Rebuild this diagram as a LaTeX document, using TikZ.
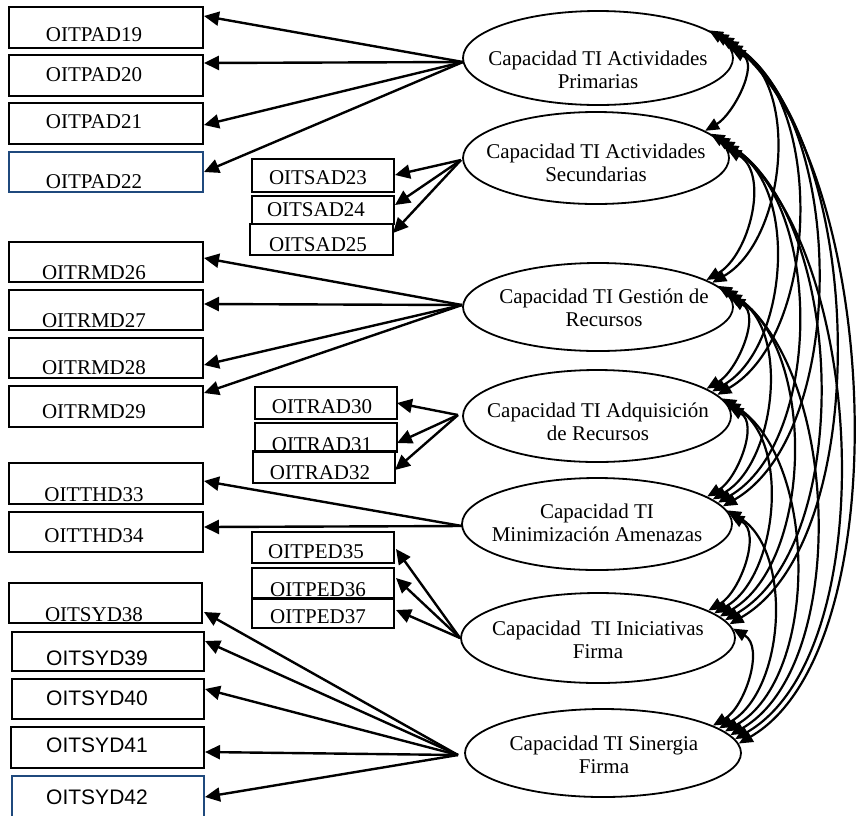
\documentclass[tikz,border=0pt]{standalone}
\usepackage{fontspec}
\setmainfont{Liberation Serif}
\newfontfamily\arialfont{Liberation Sans}
\usetikzlibrary{arrows.meta,shapes.geometric}
\definecolor{boxblue}{RGB}{31,73,125}
\begin{document}
\begin{tikzpicture}[x=1pt,y=-1pt,
  box/.style={draw=black, line width=2pt, rectangle, inner sep=0pt},
  bluebox/.style={box, draw=boxblue, line width=1.6pt},
  lbl/.style={font=\fontsize{21}{24}\selectfont, inner sep=0pt},
  slbl/.style={font=\arialfont\fontsize{21}{24}\selectfont, inner sep=0pt},
  factor/.style={draw, ellipse, line width=1.8pt, inner sep=0pt},
  ftext/.style={font=\fontsize{21}{23.5}\selectfont, align=center, inner sep=0pt},
  load/.style={line width=2.4pt, -{Triangle[length=15pt,width=14pt]}},
  cov/.style={line width=2.2pt, {Triangle[length=14pt,width=12pt]}-{Triangle[length=14pt,width=12pt]}},
]
\useasboundingbox (0,0) rectangle (861,815);
\fill[white] (0,0) rectangle (861,815);

% ---------- latent factors ----------
\node[factor, minimum width=270pt, minimum height=94pt] (f1) at (598,58) {};
\node[factor, minimum width=266pt, minimum height=92pt] (f2) at (596,158) {};
\node[factor, minimum width=270pt, minimum height=88pt] (f3) at (598,307) {};
\node[factor, minimum width=268pt, minimum height=92pt] (f4) at (597,416) {};
\node[factor, minimum width=270pt, minimum height=92pt] (f5) at (597,524) {};
\node[factor, minimum width=274pt, minimum height=90pt] (f6) at (598,638) {};
\node[factor, minimum width=276pt, minimum height=88pt] (f7) at (603,753) {};

\node[ftext] (tf1) at (598,70) {Capacidad TI Actividades\\Primarias};
\node[ftext] (tf2) at (596,163) {Capacidad TI Actividades\\Secundarias};
\node[ftext] (tf3) at (604,308) {Capacidad TI Gesti\'on de\\Recursos};
\node[ftext] (tf4) at (598,422) {Capacidad TI Adquisici\'on\\de Recursos};
\node[ftext] (tf5) at (597,523) {Capacidad TI\\Minimizaci\'on Amenazas};
\node[ftext] (tf6) at (598,640) {Capacidad~~TI Iniciativas\\Firma};
\node[ftext] (tf7) at (604,755) {Capacidad TI Sinergia\\Firma};

% ---------- observed indicators ----------
\node[box, minimum width=194pt, minimum height=41pt] (p19) at (106,27.5) {};
\node[box, minimum width=194pt, minimum height=41pt] (p20) at (106,75.5) {};
\node[box, minimum width=194pt, minimum height=41pt] (p21) at (106,123.5) {};
\node[bluebox, minimum width=194pt, minimum height=40pt] (p22) at (106,172) {};
\node[lbl] (tp19) at (94,35) {OITPAD19};
\node[lbl] (tp20) at (94,75) {OITPAD20};
\node[lbl] (tp21) at (94,122) {OITPAD21};
\node[lbl] (tp22) at (94,182) {OITPAD22};

\node[box, minimum width=142pt, minimum height=33pt] (s23) at (323,175.5) {};
\node[box, minimum width=142pt, minimum height=28pt] (s24) at (323,210) {};
\node[box, minimum width=143pt, minimum height=31pt] (s25) at (321.5,239.5) {};
\node[lbl] (ts23) at (318,178) {OITSAD23};
\node[lbl] (ts24) at (316,210) {OITSAD24};
\node[lbl] (ts25) at (318,245) {OITSAD25};

\node[box, minimum width=194pt, minimum height=40pt] (r26) at (106,262) {};
\node[box, minimum width=194pt, minimum height=40pt] (r27) at (106,310) {};
\node[box, minimum width=194pt, minimum height=40pt] (r28) at (106,358) {};
\node[box, minimum width=194pt, minimum height=41pt] (r29) at (106,406.5) {};
\node[lbl] (tr26) at (94,273) {OITRMD26};
\node[lbl] (tr27) at (94,321) {OITRMD27};
\node[lbl] (tr28) at (94,368) {OITRMD28};
\node[lbl] (tr29) at (94,412) {OITRMD29};

\node[box, minimum width=142pt, minimum height=32pt] (a30) at (326,403) {};
\node[box, minimum width=142pt, minimum height=29pt] (a31) at (326,437.5) {};
\node[lbl] (ta30) at (322,407) {OITRAD30};
\node[lbl] (ta31) at (322,445) {OITRAD31};
\node[box, minimum width=142pt, minimum height=32pt] (a32) at (324,467) {};
\node[lbl] (ta32) at (320,473) {OITRAD32};

\node[box, minimum width=194pt, minimum height=41pt] (t33) at (106,483.5) {};
\node[box, minimum width=194pt, minimum height=40pt] (t34) at (106,532) {};
\node[lbl] (tt33) at (94,495) {OITTHD33};
\node[lbl] (tt34) at (94,536) {OITTHD34};

\node[box, minimum width=142pt, minimum height=31pt] (d35) at (323,547.5) {};
\node[box, minimum width=142pt, minimum height=31pt] (d36) at (323,583.5) {};
\node[lbl] (td35) at (316,552) {OITPED35};
\node[lbl] (td36) at (318,590) {OITPED36};
\node[box, minimum width=142pt, minimum height=30pt] (d37) at (323,613) {};
\node[lbl] (td37) at (318,617) {OITPED37};

\node[box, minimum width=193pt, minimum height=40pt] (y38) at (105.5,603) {};
\node[box, minimum width=192pt, minimum height=39pt] (y39) at (108,651.5) {};
\node[box, minimum width=192pt, minimum height=40pt] (y40) at (108,699) {};
\node[box, minimum width=193pt, minimum height=41pt] (y41) at (107.5,747.5) {};
\node[bluebox, minimum width=192pt, minimum height=41pt] (y42) at (108,796.5) {};
\node[lbl]  (ty38) at (94,615) {OITSYD38};
\node[slbl] (ty39) at (97,658) {OITSYD39};
\node[slbl] (ty40) at (97,698) {OITSYD40};
\node[slbl] (ty41) at (97,745) {OITSYD41};
\node[slbl] (ty42) at (97,797) {OITSYD42};

% ---------- loading arrows ----------
\coordinate (o1) at (463,62);
\coordinate (o2) at (461,160);
\coordinate (o3) at (462,305);
\coordinate (o4) at (458,415);
\coordinate (o5) at (462,526);
\coordinate (o6) at (460,638);
\coordinate (o7) at (458,755);

\coordinate (p19a) at (204,16);
\coordinate (p20a) at (204,63);
\coordinate (p21a) at (204,125);
\coordinate (p22a) at (204,172);
\foreach \k in {19,20,21,22} \draw[load] (o1) -- (p\k a);

\coordinate (s23a) at (395,175);
\coordinate (s24a) at (395,205);
\coordinate (s25a) at (393,233);
\foreach \k in {23,24,25} \draw[load] (o2) -- (s\k a);

\coordinate (r26a) at (204,258);
\coordinate (r27a) at (204,304);
\coordinate (r28a) at (204,365);
\coordinate (r29a) at (204,393);
\foreach \k in {26,27,28,29} \draw[load] (o3) -- (r\k a);

\coordinate (a30a) at (397,403);
\coordinate (a31a) at (397,443);
\coordinate (a32a) at (395,470);
\foreach \k in {30,31,32} \draw[load] (o4) -- (a\k a);

\coordinate (t33a) at (204,481);
\coordinate (t34a) at (204,527);
\foreach \k in {33,34} \draw[load] (o5) -- (t\k a);

\coordinate (d35a) at (396,549);
\coordinate (d36a) at (396,578);
\coordinate (d37a) at (396,610);
\foreach \k in {35,36,37} \draw[load] (o6) -- (d\k a);

\coordinate (y38a) at (204,612);
\coordinate (y39a) at (205,641);
\coordinate (y40a) at (205,689);
\coordinate (y41a) at (205,752);
\coordinate (y42a) at (205,797);
\foreach \k in {38,39,40,41,42} \draw[load] (o7) -- (y\k a);

% ---------- covariances between factors ----------
\foreach \i in {1,...,6}{
  \pgfmathtruncatemacro{\nxt}{\i+1}
  \foreach \j in {\nxt,...,7}{
    \pgfmathtruncatemacro{\sa}{2+2*(\j-\i)}
    \pgfmathtruncatemacro{\ea}{16-2*(\j-\i)}
    \pgfmathsetmacro{\lo}{1.0-0.05*(\j-\i)}
    \draw[cov] (f\i.\sa) to[out=-30,in=30,looseness=\lo] (f\j.\ea);
  }
}
\end{tikzpicture}
\end{document}
